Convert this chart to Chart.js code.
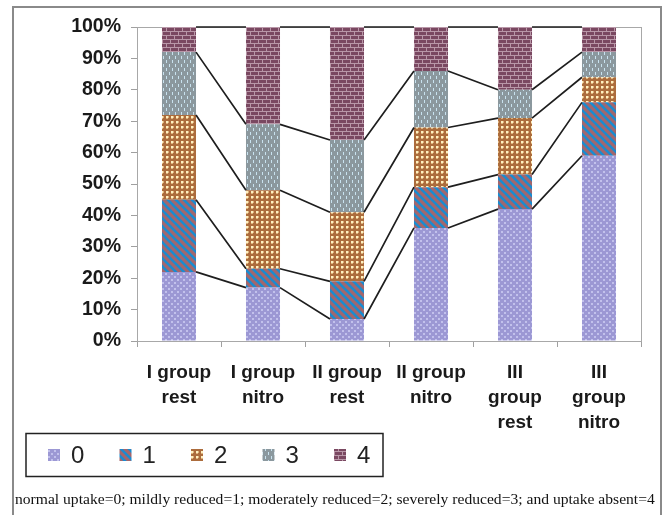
<!DOCTYPE html>
<html>
<head>
<meta charset="utf-8">
<script src="https://cdn.jsdelivr.net/npm/chart.js@4/dist/chart.umd.min.js"></script>
<style>
  body { margin: 0; background: #fff; }
  #wrap { position: relative; width: 662px; height: 515px; overflow: hidden; }
  #frame { position: absolute; left: 12px; top: 6px; width: 650px; height: 530px; box-sizing: border-box; border: 2px solid #8a8a8a; }
  #caption { position: absolute; left: 15px; top: 490px; font: 15.6px "Liberation Serif", "Times New Roman", serif; color: #111; white-space: nowrap; }
  canvas { position: absolute; left: 0; top: 0; }
</style>
</head>
<body>
<div id="wrap">
  <div id="frame"></div>
  <canvas id="chart" width="662" height="515"></canvas>
  <div id="caption">normal uptake=0; mildly reduced=1; moderately reduced=2; severely reduced=3; and uptake absent=4</div>
</div>
<script>
// categories (multi-line labels)
const groups = [
    ['I group', 'rest'],
    ['I group', 'nitro'],
    ['II group', 'rest'],
    ['II group', 'nitro'],
    ['III', 'group', 'rest'],
    ['III', 'group', 'nitro']
];

// percent share of each uptake score per group
const score0 = [22, 17, 7, 36, 42, 59];
const score1 = [23, 6, 12, 13, 11, 17];
const score2 = [27, 25, 22, 19, 18, 8];
const score3 = [20, 21, 23, 18, 9, 8];
const score4 = [8, 31, 36, 14, 20, 8];

const seriesNames = ['0', '1', '2', '3', '4'];
const yTicks = [0, 10, 20, 30, 40, 50, 60, 70, 80, 90, 100];

// --- pattern fills ---
function makeTile(w, h, draw) {
    const c = document.createElement('canvas');
    c.width = w; c.height = h;
    const g = c.getContext('2d');
    draw(g);
    return g.createPattern(c, 'repeat');
}

const pat0 = makeTile(6, 6, g => {
    g.fillStyle = '#9c98d4'; g.fillRect(0, 0, 6, 6);
    g.fillStyle = '#c2c1ec';
    g.fillRect(0, 0, 2, 2); g.fillRect(3, 3, 2, 2);
});
const pat1 = makeTile(8, 8, g => {
    g.fillStyle = '#a4666c'; g.fillRect(0, 0, 8, 8);
    g.strokeStyle = '#1a8cd0'; g.lineWidth = 2.6;
    g.beginPath();
    g.moveTo(-2, -2); g.lineTo(10, 10);
    g.moveTo(-6, 2); g.lineTo(2, 10);
    g.moveTo(2, -6); g.lineTo(10, 2);
    g.stroke();
});
const pat2 = makeTile(5, 5, g => {
    g.fillStyle = '#ac6c3c'; g.fillRect(0, 0, 5, 5);
    g.fillStyle = '#fff0c0';
    g.fillRect(1, 1, 2, 2);
    g.fillStyle = '#dcb27c';
    g.fillRect(3, 1, 1, 2); g.fillRect(1, 3, 2, 1);
});
const pat3 = makeTile(6, 8, g => {
    g.fillStyle = '#8b989e'; g.fillRect(0, 0, 6, 8);
    g.fillStyle = '#c8e2ef';
    g.fillRect(1, 0, 1, 3); g.fillRect(4, 4, 1, 3);
});
const pat4 = makeTile(8, 8, g => {
    g.fillStyle = '#7a4861'; g.fillRect(0, 0, 8, 8);
    g.fillStyle = '#b997a8';
    g.fillRect(0, 3, 8, 1); g.fillRect(0, 7, 8, 1);
    g.fillRect(2, 0, 1, 3); g.fillRect(6, 4, 1, 3);
});

const fills = [pat0, pat1, pat2, pat3, pat4];
const allSeries = [score0, score1, score2, score3, score4];

// lines joining the segment tops of neighbouring bars
const seriesLines = {
    id: 'seriesLines',
    beforeDatasetsDraw(chart) {
        const { ctx, chartArea: a } = chart;
        ctx.save();
        ctx.strokeStyle = '#a8a8a8';
        ctx.lineWidth = 1;
        ctx.strokeRect(a.left + 0.5, a.top + 0.5, a.right - a.left, a.bottom - a.top);
        ctx.restore();
    },
    afterDatasetsDraw(chart) {
        const ctx = chart.ctx;
        ctx.save();
        ctx.strokeStyle = '#1e1e1e';
        ctx.lineWidth = 1.7;
        chart.data.datasets.forEach((ds, d) => {
            const bars = chart.getDatasetMeta(d).data;
            ctx.beginPath();
            for (let i = 0; i < bars.length - 1; i++) {
                const a = bars[i], b = bars[i + 1];
                ctx.moveTo(a.x + a.width / 2, a.y);
                ctx.lineTo(b.x - b.width / 2, b.y);
            }
            ctx.stroke();
        });
        ctx.restore();
    }
};

// boxed legend below the axis labels
const boxLegend = {
    id: 'boxLegend',
    afterDraw(chart) {
        const ctx = chart.ctx;
        ctx.save();
        ctx.strokeStyle = '#222';
        ctx.lineWidth = 1.5;
        ctx.strokeRect(26, 433.5, 357, 43);
        ctx.font = '24px "Liberation Sans", Arial, sans-serif';
        ctx.textBaseline = 'middle';
        chart.data.datasets.forEach((ds, d) => {
            const x = 48 + d * 71.5;
            ctx.fillStyle = ds.backgroundColor;
            ctx.fillRect(x, 449, 12, 12);
            ctx.fillStyle = '#222';
            ctx.fillText(ds.label, x + 23, 456);
        });
        ctx.restore();
    }
};

new Chart(document.getElementById('chart'), {
    type: 'bar',
    data: {
        labels: groups,
        datasets: allSeries.map((vals, k) => ({
            label: seriesNames[k],
            data: vals,
            backgroundColor: fills[k],
            borderWidth: 0,
            categoryPercentage: 1,
            barPercentage: 0.405
        }))
    },
    options: {
        responsive: false,
        devicePixelRatio: 1,
        animation: false,
        layout: { padding: { left: 0, right: 21, top: 27, bottom: 0 } },
        plugins: {
            legend: { display: false },
            tooltip: { enabled: false }
        },
        scales: {
            x: {
                stacked: true,
                grid: { offset: true, drawOnChartArea: false, color: '#a0a0a0', tickLength: 6 },
                border: { color: '#a0a0a0' },
                ticks: {
                    color: '#1a1a1a',
                    padding: 13,
                    maxRotation: 0,
                    autoSkip: false,
                    font: { family: '"Liberation Sans", Arial, sans-serif', size: 19, weight: 'bold', lineHeight: '25px' }
                },
                afterFit(scale) { scale.height = 174; }
            },
            y: {
                stacked: true,
                min: 0,
                max: 100,
                grid: { drawOnChartArea: false, color: '#a0a0a0', tickLength: 6 },
                border: { color: '#a0a0a0' },
                afterBuildTicks(scale) { scale.ticks = yTicks.map(v => ({ value: v })); },
                ticks: {
                    color: '#1a1a1a',
                    padding: 10,
                    callback: v => v + '%',
                    font: { family: '"Liberation Sans", Arial, sans-serif', size: 19.5, weight: 'bold' }
                },
                afterFit(scale) { scale.width = 137; }
            }
        }
    },
    plugins: [seriesLines, boxLegend]
});
</script>
</body>
</html>
